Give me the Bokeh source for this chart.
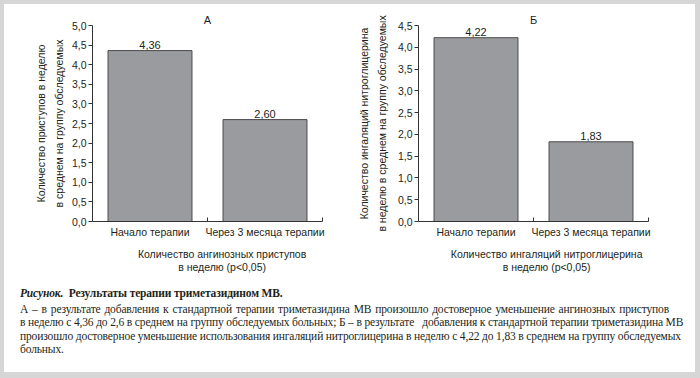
from bokeh.plotting import figure
from bokeh.models import Range1d, FixedTicker, CustomJSTickFormatter, Div
from bokeh.layouts import column, row
from bokeh.core.properties import value
from bokeh.embed import file_html
from bokeh.resources import INLINE

# ---------------- data ----------------
categories = ["Начало терапии", "Через 3 месяца терапии"]
attacks = [4.36, 2.60]
attack_labels = ["4,36", "2,60"]
inhalations = [4.22, 1.83]
inhalation_labels = ["4,22", "1,83"]
yticks_a = [0.0, 0.5, 1.0, 1.5, 2.0, 2.5, 3.0, 3.5, 4.0, 4.5, 5.0]
yticks_b = [0.0, 0.5, 1.0, 1.5, 2.0, 2.5, 3.0, 3.5, 4.0, 4.5]

FONT = "Liberation Sans"
TXT = "#231f20"
BAR = "#9a9b9e"


def indent(text, n):
    pad = "\u00a0" * n
    return "\n".join(pad + line for line in text.split("\n"))


def make_panel(title, title_offset, vals, labels, yticks, ylab, xlab, width, left, right, top,
               ylab_standoff):
    p = figure(width=width, height=276, output_backend="svg", toolbar_location=None,
               x_range=Range1d(0, len(categories)), y_range=Range1d(0, yticks[-1]),
               min_border_left=left, min_border_right=right, min_border_top=top,
               min_border_bottom=59)
    p.outline_line_color = None
    p.grid.visible = False
    p.background_fill_color = "white"
    p.border_fill_color = "white"
    p.title.text = title
    p.title.align = "center"
    p.title.offset = title_offset
    p.title.text_font = FONT
    p.title.text_font_size = "11px"
    p.title.text_font_style = "normal"
    p.title.text_color = TXT
    p.title.standoff = 0

    xs = [i + 0.5 for i in range(len(categories))]
    p.vbar(x=xs, top=vals, width=0.73, fill_color=BAR, line_color="#4a4a4a", line_width=1)
    p.text(x=xs, y=vals, text=labels, text_align="center", text_baseline="bottom",
           y_offset=-2, text_font=value(FONT), text_font_size="11px", text_color=TXT)

    xa = p.xaxis[0]
    xa.ticker = FixedTicker(ticks=xs, minor_ticks=[i + 1 for i in range(len(categories))])
    xa.formatter = CustomJSTickFormatter(args=dict(cats=categories),
                                         code="return cats[Math.floor(tick)];")
    xa.major_tick_in = 0
    xa.major_tick_out = 0
    xa.minor_tick_in = 4
    xa.minor_tick_out = 0
    xa.axis_line_color = "#333333"
    xa.minor_tick_line_color = "#333333"
    xa.major_label_text_font = FONT
    xa.major_label_text_font_size = "10.5px"
    xa.major_label_text_color = TXT
    xa.major_label_standoff = 4
    xa.axis_label = xlab
    xa.axis_label_text_font = FONT
    xa.axis_label_text_font_size = "10.5px"
    xa.axis_label_text_font_style = "normal"
    xa.axis_label_text_color = TXT
    xa.axis_label_text_line_height = 1.1
    xa.axis_label_standoff = 7

    ya = p.yaxis[0]
    ya.ticker = FixedTicker(ticks=yticks, minor_ticks=[])
    ya.formatter = CustomJSTickFormatter(code="return tick.toFixed(1).replace('.', ',');")
    ya.major_tick_in = 0
    ya.major_tick_out = 4
    ya.minor_tick_line_color = None
    ya.axis_line_color = "#333333"
    ya.major_tick_line_color = "#333333"
    ya.major_label_text_font = FONT
    ya.major_label_text_font_size = "10.5px"
    ya.major_label_text_color = TXT
    ya.major_label_standoff = 2
    ya.axis_label = ylab
    ya.axis_label_text_font = FONT
    ya.axis_label_text_font_size = "10.5px"
    ya.axis_label_text_font_style = "normal"
    ya.axis_label_text_color = TXT
    ya.axis_label_text_line_height = 1.5
    ya.axis_label_standoff = ylab_standoff
    return p


pa = make_panel("А", 9, attacks, attack_labels, yticks_a,
                "Количество приступов в неделю\nв среднем на группу обследуемых",
                indent("Количество ангинозных приступов\nв неделю (p<0,05)", 10),
                346, 88, 28, 20, 4)
pb = make_panel("Б", 14, inhalations, inhalation_labels, yticks_b,
                "Количество ингаляций нитроглицерина\nв неделю в среднем на группу обследуемых",
                indent("Количество ингаляций нитроглицерина\nв неделю (p<0,05)", 9),
                345, 68, 47, 21, 7)

line_style = ("white-space:nowrap;text-align:justify;text-align-last:justify;"
              "line-height:13.4px;")
caption = (
    "<div style=\"font-family:'Liberation Serif',serif;font-size:11.5px;letter-spacing:-0.15px;"
    "color:#231f20;padding:6px 5px 0 16px;width:670px;\">"
    "<div style='font-weight:bold;margin-bottom:3px;line-height:14px;'>"
    "<i>Рисунок.</i>&nbsp; Результаты терапии триметазидином МВ.</div>"
    f"<div style='{line_style}'>А – в результате добавления к стандартной терапии триметазидина МВ произошло достоверное уменьшение ангинозных приступов</div>"
    f"<div style='{line_style}'>в неделю с 4,36 до 2,6 в среднем на группу обследуемых больных; Б – в результате &nbsp; добавления к стандартной терапии триметазидина МВ</div>"
    f"<div style='{line_style}'>произошло достоверное уменьшение использования ингаляций нитроглицерина в неделю с 4,22 до 1,83 в среднем на группу обследуемых</div>"
    "<div style='line-height:13.4px;'>больных.</div>"
    "</div>"
)
div = Div(text=caption, width=691, height=92, margin=(0, 5, 6, 4),
          styles={"background-color": "white"})

top_row = row(pa, pb, spacing=0, margin=(4, 5, 0, 4),
              styles={"background-color": "white"})
layout = column(top_row, div, spacing=0, styles={"background-color": "#d6d6d6"})

open("out.html", "w").write(file_html(layout, INLINE))
